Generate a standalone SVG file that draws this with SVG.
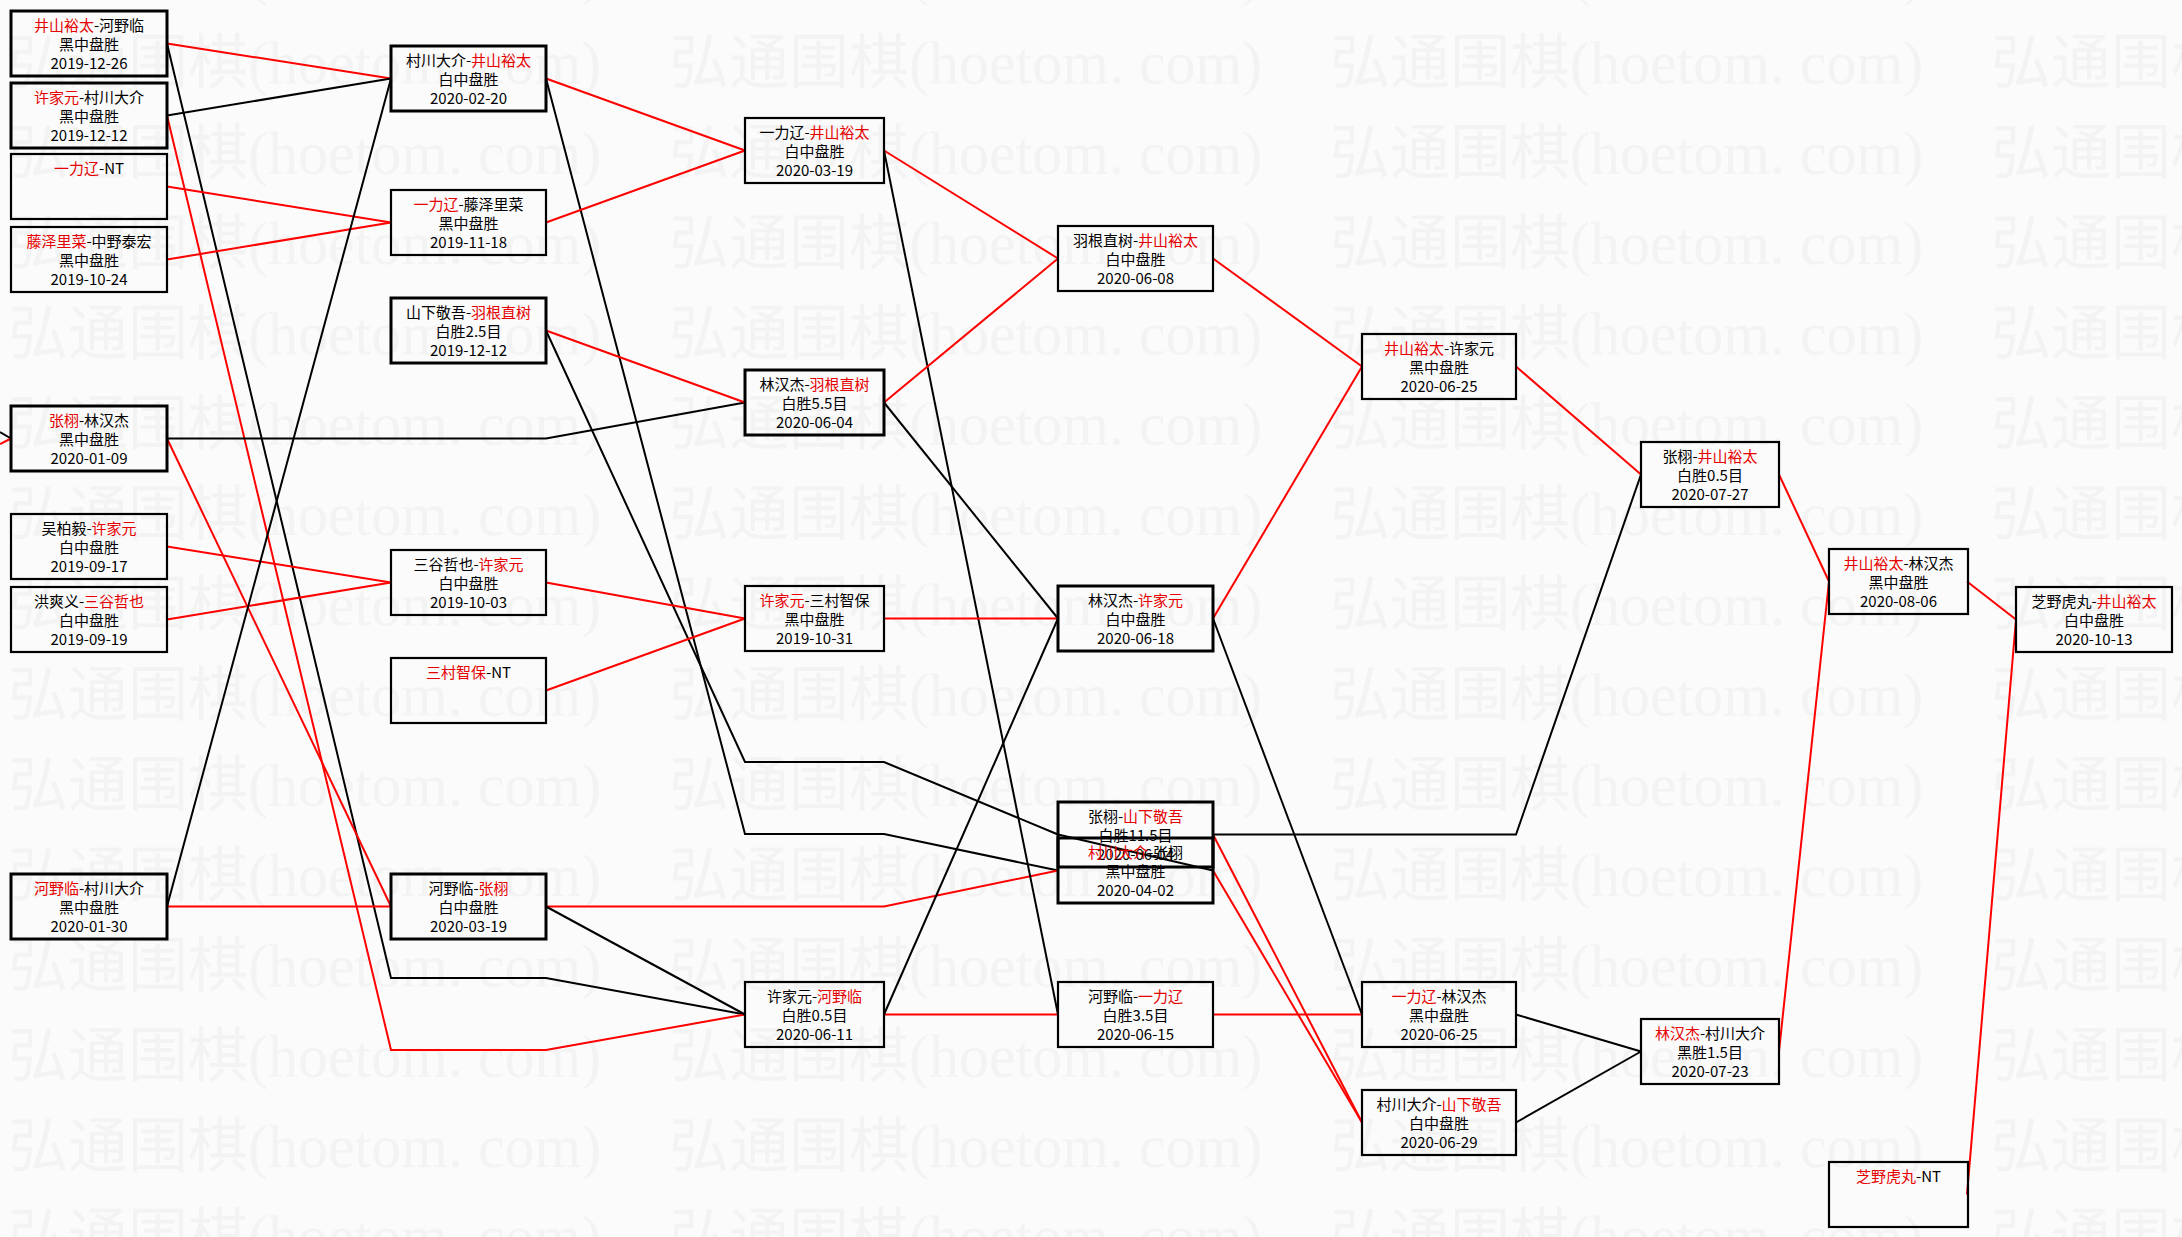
<svg xmlns="http://www.w3.org/2000/svg" width="2182" height="1237" viewBox="0 0 2182 1237">
<style>
.bx{fill:none;stroke:#000;stroke-width:2.2}
.bk{stroke-width:3}
.t{font-family:"Noto Sans CJK SC","Noto Sans CJK JP",sans-serif;font-size:15px;text-anchor:middle;fill:#000}
.r{fill:#e60000}
.cr{fill:none;stroke:#f00;stroke-width:2}
.ck{fill:none;stroke:#000;stroke-width:2}
.wm{font-family:"Liberation Serif","Noto Sans CJK SC",serif;font-size:60px;fill:#f3f3f3}
</style>
<defs>
<pattern id="wmp" patternUnits="userSpaceOnUse" x="0" y="20" width="661" height="90.3">
<text class="wm" x="8" y="64">弘通围棋(hoetom. com)</text>
</pattern>
</defs>
<rect x="0" y="0" width="2182" height="1237" fill="#fbfbfb"/>
<rect x="0" y="0" width="2182" height="1237" fill="url(#wmp)"/>

<g id="connectors">
<polyline class="cr" points="167,43.5 391,78.5"/>
<polyline class="ck" points="167,43.5 391,978 546,978 745,1014.5"/>
<polyline class="ck" points="167,115.5 391,78.5"/>
<polyline class="cr" points="167,115.5 391,1050 546,1050 745,1014.5"/>
<polyline class="cr" points="167,186.5 391,222.5"/>
<polyline class="cr" points="167,259.5 391,222.5"/>
<polyline class="cr" points="167,438.5 391,906.5"/>
<polyline class="ck" points="167,438.5 546,438.5 745,402.5"/>
<polyline class="cr" points="167,546.5 391,582.5"/>
<polyline class="cr" points="167,619.5 391,582.5"/>
<polyline class="cr" points="167,906.5 391,906.5"/>
<polyline class="ck" points="167,906.5 391,78.5"/>
<polyline class="cr" points="546,78.5 745,150.5"/>
<polyline class="ck" points="546,78.5 745,834 884,834 1058,870.5"/>
<polyline class="cr" points="546,222.5 745,150.5"/>
<polyline class="cr" points="546,330.5 745,402.5"/>
<polyline class="ck" points="546,330.5 745,762 884,762 1058,834.5"/>
<polyline class="cr" points="546,582.5 745,618.5"/>
<polyline class="cr" points="546,690.5 745,618.5"/>
<polyline class="cr" points="546,906.5 884,906.5 1058,870.5"/>
<polyline class="ck" points="546,906.5 745,1014.5"/>
<polyline class="cr" points="884,150.5 1058,258.5"/>
<polyline class="ck" points="884,150.5 1058,1014.5"/>
<polyline class="cr" points="884,402.5 1058,258.5"/>
<polyline class="ck" points="884,402.5 1058,618.5"/>
<polyline class="cr" points="884,618.5 1058,618.5"/>
<polyline class="cr" points="884,1014.5 1058,1014.5"/>
<polyline class="ck" points="884,1014.5 1058,618.5"/>
<polyline class="cr" points="1213,258.5 1362,366.5"/>
<polyline class="cr" points="1213,618.5 1362,366.5"/>
<polyline class="ck" points="1213,618.5 1362,1014.5"/>
<polyline class="cr" points="1213,834.5 1362,1122.5"/>
<polyline class="ck" points="1213,834.5 1516,834.5 1641,474.5"/>
<polyline class="cr" points="1213,870.5 1362,1122.5"/>
<polyline class="ck" points="1213,870.5 1058,834.5"/>
<polyline class="cr" points="1213,1014.5 1362,1014.5"/>
<polyline class="cr" points="1516,366.5 1641,474.5"/>
<polyline class="ck" points="1516,1014.5 1641,1051.5"/>
<polyline class="ck" points="1516,1122.5 1641,1051.5"/>
<polyline class="cr" points="1779,474.5 1829,581.5"/>
<polyline class="cr" points="1779,1051.5 1829,581.5"/>
<polyline class="cr" points="1967,581.5 2016,619.5"/>
<polyline class="cr" points="1967,1194.5 2016,619.5"/>
<polyline class="ck" points="0,432 11,438.5"/>
<polyline class="cr" points="0,444 11,438.5"/>
</g>

<g id="n-A1"><rect class="bx bk" x="11" y="11" width="156" height="65"/>
<text class="t" x="89" y="31"><tspan class="r">井山裕太</tspan>-河野临</text>
<text class="t" x="89" y="50">黑中盘胜</text><text class="t" x="89" y="69">2019-12-26</text></g>
<g id="n-A2"><rect class="bx bk" x="11" y="83" width="156" height="65"/>
<text class="t" x="89" y="103"><tspan class="r">许家元</tspan>-村川大介</text>
<text class="t" x="89" y="122">黑中盘胜</text><text class="t" x="89" y="141">2019-12-12</text></g>
<g id="n-A3"><rect class="bx" x="11" y="154" width="156" height="65"/>
<text class="t" x="89" y="174"><tspan class="r">一力辽</tspan>-NT</text></g>
<g id="n-A4"><rect class="bx" x="11" y="227" width="156" height="65"/>
<text class="t" x="89" y="247"><tspan class="r">藤泽里菜</tspan>-中野泰宏</text>
<text class="t" x="89" y="266">黑中盘胜</text><text class="t" x="89" y="285">2019-10-24</text></g>
<g id="n-A5"><rect class="bx bk" x="11" y="406" width="156" height="65"/>
<text class="t" x="89" y="426"><tspan class="r">张栩</tspan>-林汉杰</text>
<text class="t" x="89" y="445">黑中盘胜</text><text class="t" x="89" y="464">2020-01-09</text></g>
<g id="n-A6"><rect class="bx" x="11" y="514" width="156" height="65"/>
<text class="t" x="89" y="534">吴柏毅-<tspan class="r">许家元</tspan></text>
<text class="t" x="89" y="553">白中盘胜</text><text class="t" x="89" y="572">2019-09-17</text></g>
<g id="n-A7"><rect class="bx" x="11" y="587" width="156" height="65"/>
<text class="t" x="89" y="607">洪爽义-<tspan class="r">三谷哲也</tspan></text>
<text class="t" x="89" y="626">白中盘胜</text><text class="t" x="89" y="645">2019-09-19</text></g>
<g id="n-A8"><rect class="bx bk" x="11" y="874" width="156" height="65"/>
<text class="t" x="89" y="894"><tspan class="r">河野临</tspan>-村川大介</text>
<text class="t" x="89" y="913">黑中盘胜</text><text class="t" x="89" y="932">2020-01-30</text></g>

<g id="n-B1"><rect class="bx bk" x="391" y="46" width="155" height="65"/>
<text class="t" x="468.5" y="66">村川大介-<tspan class="r">井山裕太</tspan></text>
<text class="t" x="468.5" y="85">白中盘胜</text><text class="t" x="468.5" y="104">2020-02-20</text></g>
<g id="n-B2"><rect class="bx" x="391" y="190" width="155" height="65"/>
<text class="t" x="468.5" y="210"><tspan class="r">一力辽</tspan>-藤泽里菜</text>
<text class="t" x="468.5" y="229">黑中盘胜</text><text class="t" x="468.5" y="248">2019-11-18</text></g>
<g id="n-B3"><rect class="bx bk" x="391" y="298" width="155" height="65"/>
<text class="t" x="468.5" y="318">山下敬吾-<tspan class="r">羽根直树</tspan></text>
<text class="t" x="468.5" y="337">白胜2.5目</text><text class="t" x="468.5" y="356">2019-12-12</text></g>
<g id="n-B4"><rect class="bx" x="391" y="550" width="155" height="65"/>
<text class="t" x="468.5" y="570">三谷哲也-<tspan class="r">许家元</tspan></text>
<text class="t" x="468.5" y="589">白中盘胜</text><text class="t" x="468.5" y="608">2019-10-03</text></g>
<g id="n-B5"><rect class="bx" x="391" y="658" width="155" height="65"/>
<text class="t" x="468.5" y="678"><tspan class="r">三村智保</tspan>-NT</text></g>
<g id="n-B6"><rect class="bx bk" x="391" y="874" width="155" height="65"/>
<text class="t" x="468.5" y="894">河野临-<tspan class="r">张栩</tspan></text>
<text class="t" x="468.5" y="913">白中盘胜</text><text class="t" x="468.5" y="932">2020-03-19</text></g>

<g id="n-C1"><rect class="bx" x="745" y="118" width="139" height="65"/>
<text class="t" x="814.5" y="138">一力辽-<tspan class="r">井山裕太</tspan></text>
<text class="t" x="814.5" y="157">白中盘胜</text><text class="t" x="814.5" y="176">2020-03-19</text></g>
<g id="n-C2"><rect class="bx bk" x="745" y="370" width="139" height="65"/>
<text class="t" x="814.5" y="390">林汉杰-<tspan class="r">羽根直树</tspan></text>
<text class="t" x="814.5" y="409">白胜5.5目</text><text class="t" x="814.5" y="428">2020-06-04</text></g>
<g id="n-C3"><rect class="bx" x="745" y="586" width="139" height="65"/>
<text class="t" x="814.5" y="606"><tspan class="r">许家元</tspan>-三村智保</text>
<text class="t" x="814.5" y="625">黑中盘胜</text><text class="t" x="814.5" y="644">2019-10-31</text></g>
<g id="n-C4"><rect class="bx" x="745" y="982" width="139" height="65"/>
<text class="t" x="814.5" y="1002">许家元-<tspan class="r">河野临</tspan></text>
<text class="t" x="814.5" y="1021">白胜0.5目</text><text class="t" x="814.5" y="1040">2020-06-11</text></g>

<g id="n-D1"><rect class="bx" x="1058" y="226" width="155" height="65"/>
<text class="t" x="1135.5" y="246">羽根直树-<tspan class="r">井山裕太</tspan></text>
<text class="t" x="1135.5" y="265">白中盘胜</text><text class="t" x="1135.5" y="284">2020-06-08</text></g>
<g id="n-D2"><rect class="bx bk" x="1058" y="586" width="155" height="65"/>
<text class="t" x="1135.5" y="606">林汉杰-<tspan class="r">许家元</tspan></text>
<text class="t" x="1135.5" y="625">白中盘胜</text><text class="t" x="1135.5" y="644">2020-06-18</text></g>
<g id="n-D3"><rect class="bx bk" x="1058" y="802" width="155" height="65"/>
<text class="t" x="1135.5" y="822">张栩-<tspan class="r">山下敬吾</tspan></text>
<text class="t" x="1135.5" y="841">白胜11.5目</text><text class="t" x="1135.5" y="860">2020-06-04</text></g>
<g id="n-D4"><rect class="bx bk" x="1058" y="838" width="155" height="65"/>
<text class="t" x="1135.5" y="858"><tspan class="r">村川大介</tspan>-张栩</text>
<text class="t" x="1135.5" y="877">黑中盘胜</text><text class="t" x="1135.5" y="896">2020-04-02</text></g>
<g id="n-D5"><rect class="bx" x="1058" y="982" width="155" height="65"/>
<text class="t" x="1135.5" y="1002">河野临-<tspan class="r">一力辽</tspan></text>
<text class="t" x="1135.5" y="1021">白胜3.5目</text><text class="t" x="1135.5" y="1040">2020-06-15</text></g>

<g id="n-E1"><rect class="bx" x="1362" y="334" width="154" height="65"/>
<text class="t" x="1439" y="354"><tspan class="r">井山裕太</tspan>-许家元</text>
<text class="t" x="1439" y="373">黑中盘胜</text><text class="t" x="1439" y="392">2020-06-25</text></g>
<g id="n-E2"><rect class="bx" x="1362" y="982" width="154" height="65"/>
<text class="t" x="1439" y="1002"><tspan class="r">一力辽</tspan>-林汉杰</text>
<text class="t" x="1439" y="1021">黑中盘胜</text><text class="t" x="1439" y="1040">2020-06-25</text></g>
<g id="n-E3"><rect class="bx" x="1362" y="1090" width="154" height="65"/>
<text class="t" x="1439" y="1110">村川大介-<tspan class="r">山下敬吾</tspan></text>
<text class="t" x="1439" y="1129">白中盘胜</text><text class="t" x="1439" y="1148">2020-06-29</text></g>

<g id="n-F1"><rect class="bx" x="1641" y="442" width="138" height="65"/>
<text class="t" x="1710" y="462">张栩-<tspan class="r">井山裕太</tspan></text>
<text class="t" x="1710" y="481">白胜0.5目</text><text class="t" x="1710" y="500">2020-07-27</text></g>
<g id="n-F2"><rect class="bx" x="1641" y="1019" width="138" height="65"/>
<text class="t" x="1710" y="1039"><tspan class="r">林汉杰</tspan>-村川大介</text>
<text class="t" x="1710" y="1058">黑胜1.5目</text><text class="t" x="1710" y="1077">2020-07-23</text></g>

<g id="n-G1"><rect class="bx" x="1829" y="549" width="139" height="65"/>
<text class="t" x="1898.5" y="569"><tspan class="r">井山裕太</tspan>-林汉杰</text>
<text class="t" x="1898.5" y="588">黑中盘胜</text><text class="t" x="1898.5" y="607">2020-08-06</text></g>
<g id="n-G2"><rect class="bx" x="1829" y="1162" width="139" height="65"/>
<text class="t" x="1898.5" y="1182"><tspan class="r">芝野虎丸</tspan>-NT</text></g>

<g id="n-H1"><rect class="bx" x="2016" y="587" width="156" height="65"/>
<text class="t" x="2094" y="607">芝野虎丸-<tspan class="r">井山裕太</tspan></text>
<text class="t" x="2094" y="626">白中盘胜</text><text class="t" x="2094" y="645">2020-10-13</text></g>
</svg>
